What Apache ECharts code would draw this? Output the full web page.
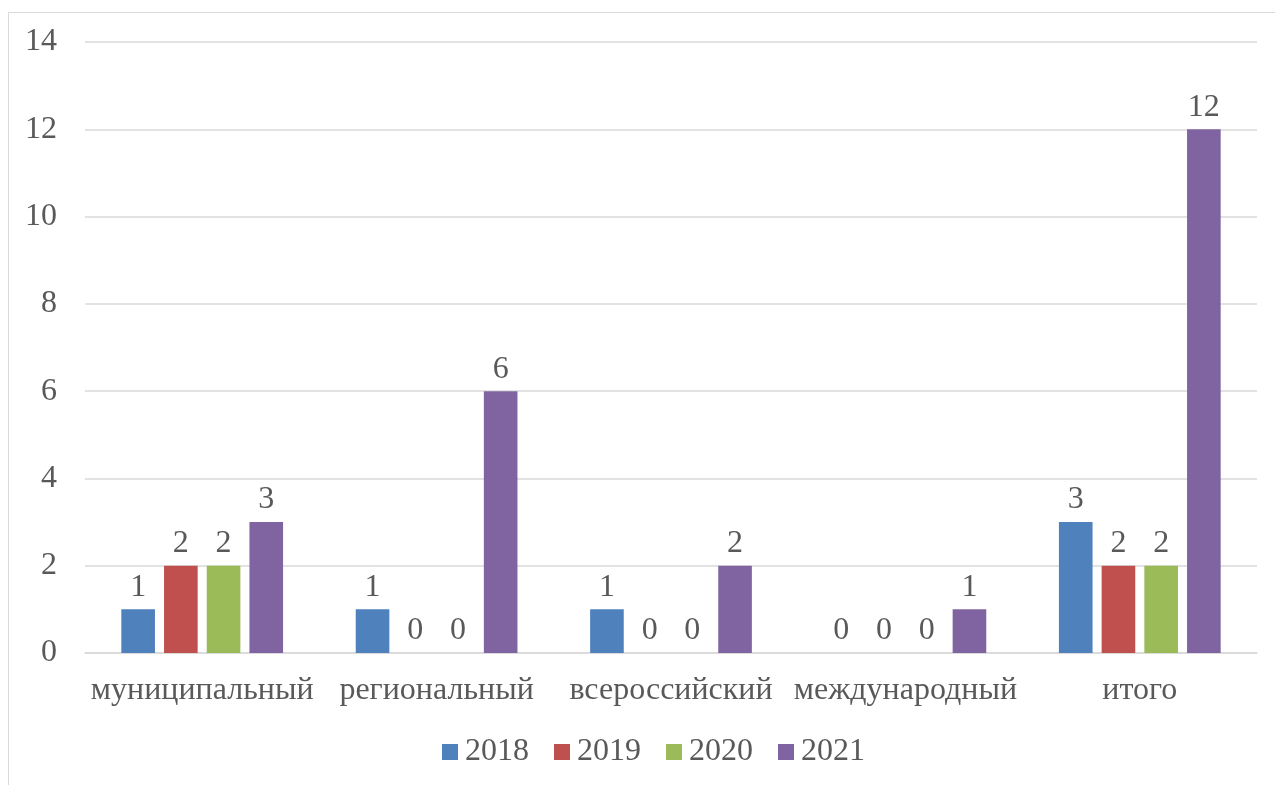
<!DOCTYPE html>
<html><head><meta charset="utf-8">
<script src="https://cdn.jsdelivr.net/npm/echarts@6/dist/echarts.min.js"></script>
<style>html,body{margin:0;padding:0;background:#fff;}#c{width:1275px;height:785px;}
#b{position:absolute;left:8px;top:12px;width:1300px;height:800px;border:1.5px solid #D9D9D9;box-sizing:border-box;pointer-events:none;}</style>
</head><body><div id="c"></div><div id="b"></div>
<script>
const categories = ['муниципальный','региональный','всероссийский','международный','итого'];
const seriesNames = ['2018','2019','2020','2021'];
const v2018 = [1,1,1,0,3];
const v2019 = [2,0,0,0,2];
const v2020 = [2,0,0,0,2];
const v2021 = [3,6,2,1,12];
const yTicks = [0,2,4,6,8,10,12,14];
const colors = ['#4F81BD','#C0504D','#9BBB59','#8064A2'];
const font = '"Liberation Serif","Times New Roman",serif';
const txt = '#595959';
const chart = echarts.init(document.getElementById('c'));
const all = [v2018,v2019,v2020,v2021];
chart.setOption({
  animation:false,
  color: colors,
  grid:{left:85,right:18,top:42,bottom:132,containLabel:false},
  legend:{bottom:12,left:437,itemWidth:16,itemHeight:16,itemGap:25,icon:'rect',
    textStyle:{fontFamily:font,fontSize:32,color:txt,padding:[0,0,0,2]},data:seriesNames},
  xAxis:{type:'category',data:categories,axisTick:{show:false},
    axisLine:{lineStyle:{color:'#D9D9D9',width:1.5}},
    axisLabel:{fontFamily:font,fontSize:32,color:txt,margin:22,interval:0}},
  yAxis:{type:'value',min:0,max:14,interval:2,axisLine:{show:false},axisTick:{show:false},
    splitLine:{lineStyle:{color:'#D9D9D9',width:1.5}},
    axisLabel:{fontFamily:font,fontSize:32,color:txt,margin:28,
      formatter:v=>yTicks.includes(v)?String(v):''}},
  series: seriesNames.map((n,i)=>({name:n,type:'bar',data:all[i],barGap:'27%',barCategoryGap:'31%',
    label:{show:true,position:'top',distance:6,fontFamily:font,fontSize:32,color:txt}}))
});
</script></body></html>
